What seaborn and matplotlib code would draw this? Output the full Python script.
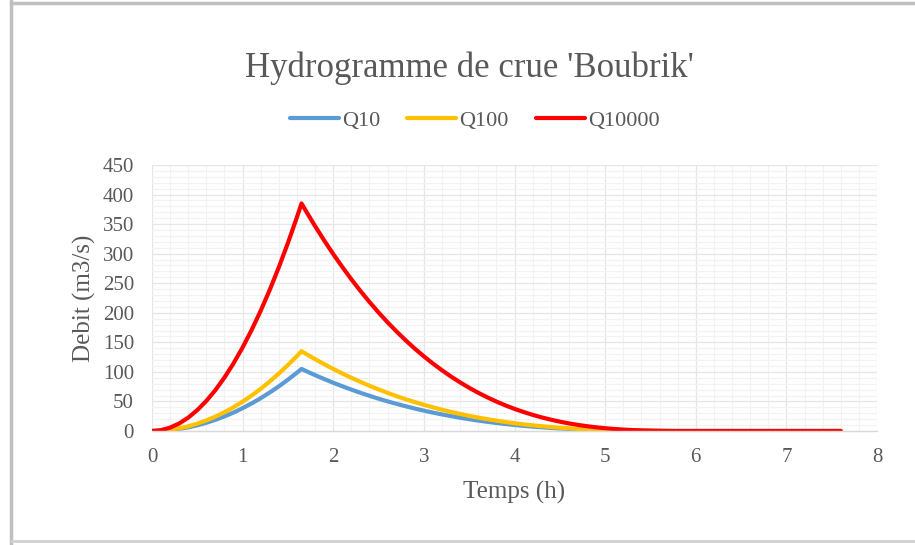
import numpy as np
import pandas as pd
import matplotlib
matplotlib.use("Agg")
import matplotlib.pyplot as plt
from matplotlib.ticker import MultipleLocator
from matplotlib.lines import Line2D
import seaborn as sns

# Time steps (h)
temps = [0.0, 0.1, 0.2, 0.3, 0.4, 0.5, 0.6, 0.7, 0.8, 0.9, 1.0, 1.1, 1.2, 1.3,
         1.4, 1.5, 1.6, 1.65,
         1.7, 1.8, 1.9, 2.0, 2.1, 2.2, 2.3, 2.4, 2.5, 2.6, 2.7, 2.8, 2.9, 3.0,
         3.1, 3.2, 3.3, 3.4, 3.5, 3.6, 3.7, 3.8, 3.9, 4.0, 4.1, 4.2, 4.3, 4.4,
         4.5, 4.6, 4.7, 4.8, 4.9, 5.0, 5.1, 5.2, 5.3, 5.4, 5.5, 5.6, 5.7, 5.8,
         5.9, 6.0, 7.6]

# Discharge (m3/s) for each return period
q10 = [0.0, 0.4, 1.5, 3.5, 6.2, 9.6, 13.9, 18.9, 24.7, 31.2, 38.6, 46.7, 55.5,
       65.2, 75.6, 86.8, 98.7, 105.0,
       101.4, 94.5, 87.9, 81.6, 75.7, 70.0, 64.6, 59.5, 54.7, 50.1, 45.8, 41.8,
       38.0, 34.4, 31.1, 28.0, 25.1, 22.4, 19.9, 17.6, 15.5, 13.6, 11.8, 10.2,
       8.7, 7.4, 6.3, 5.2, 4.3, 3.5, 2.8, 2.2, 1.7, 1.3, 0.9, 0.7, 0.4, 0.3,
       0.2, 0.1, 0.0, 0.0, 0.0, 0.0, 0.0]
q100 = [0.0, 0.5, 2.0, 4.5, 7.9, 12.4, 17.9, 24.3, 31.7, 40.2, 49.6, 60.0, 71.4,
        83.8, 97.2, 111.6, 126.9, 135.0,
        130.4, 121.5, 113.0, 105.0, 97.3, 90.0, 83.1, 76.5, 70.3, 64.5, 58.9,
        53.7, 48.9, 44.3, 40.0, 36.0, 32.3, 28.8, 25.6, 22.7, 20.0, 17.5, 15.2,
        13.1, 11.2, 9.6, 8.1, 6.7, 5.5, 4.5, 3.6, 2.8, 2.2, 1.6, 1.2, 0.8, 0.6,
        0.4, 0.2, 0.1, 0.0, 0.0, 0.0, 0.0, 0.0]
q10000 = [0.0, 1.4, 5.7, 12.7, 22.6, 35.4, 50.9, 69.3, 90.5, 114.5, 141.4,
          171.1, 203.6, 239.0, 277.2, 318.2, 362.0, 385.0,
          371.9, 346.5, 322.4, 299.3, 277.5, 256.6, 236.9, 218.2, 200.5, 183.8,
          168.1, 153.3, 139.3, 126.3, 114.1, 102.7, 92.1, 82.2, 73.1, 64.6,
          56.9, 49.8, 43.3, 37.4, 32.1, 27.3, 23.0, 19.2, 15.8, 12.8, 10.3,
          8.1, 6.2, 4.7, 3.4, 2.4, 1.6, 1.0, 0.6, 0.3, 0.1, 0.0, 0.0, 0.0, 0.0]

series_names = ["Q10", "Q100", "Q10000"]
series_colors = ["#5B9BD5", "#FFC000", "#FF0000"]

df = pd.concat([
    pd.DataFrame({"Temps": temps, "Debit": vals, "Serie": name})
    for name, vals in zip(series_names, [q10, q100, q10000])
], ignore_index=True)

sns.set_style("white")
plt.rcParams["font.family"] = ["Liberation Serif", "DejaVu Serif"]

TXT = "#595959"
fig = plt.figure(figsize=(9.15, 5.45), dpi=100)
ax = fig.add_axes([0.1661, 0.2092, 0.7924, 0.488])

sns.lineplot(data=df, x="Temps", y="Debit", hue="Serie",
             hue_order=series_names, palette=series_colors,
             linewidth=3.0, ax=ax, legend=False, sort=False)

ax.set_xlim(0, 8)
ax.set_ylim(0, 450)
ax.xaxis.set_major_locator(MultipleLocator(1))
ax.xaxis.set_minor_locator(MultipleLocator(0.2))
ax.yaxis.set_major_locator(MultipleLocator(50))
ax.yaxis.set_minor_locator(MultipleLocator(10))
ax.grid(which="major", color="#E6E6E6", linewidth=0.9)
ax.grid(which="minor", color="#F2F2F2", linewidth=0.8)
ax.set_axisbelow(True)

for side in ["top", "right", "left"]:
    ax.spines[side].set_visible(False)
ax.spines["bottom"].set_color("#D9D9D9")
ax.spines["bottom"].set_linewidth(1.0)
ax.tick_params(axis="x", which="major", direction="out", length=5,
               color="#D9D9D9", labelsize=15, labelcolor=TXT, pad=7)
ax.tick_params(axis="x", which="minor", length=0)
ax.tick_params(axis="y", which="both", length=0, labelsize=15,
               labelcolor=TXT, pad=13)

ax.set_xlabel("Temps (h)", fontsize=18, color=TXT, labelpad=10)
ax.set_ylabel("Debit (m3/s)", fontsize=18, color=TXT, labelpad=5)

fig.text(0.513, 0.875, "Hydrogramme de crue 'Boubrik'", ha="center",
         va="center", fontsize=25, color=TXT)

handles = [Line2D([0], [0], color=c, linewidth=3.0) for c in series_colors]
fig.legend(handles, series_names, loc="center", bbox_to_anchor=(0.519, 0.778),
           ncol=3, frameon=False, fontsize=16, handlelength=2.2,
           handletextpad=0.15, columnspacing=1.2, labelcolor=TXT)

# Outer frame of the chart area
fig.add_artist(Line2D([0.012, 0.012], [0.0, 1.0], transform=fig.transFigure,
                      color="#BFBFBF", linewidth=2.5))
fig.add_artist(Line2D([0.012, 1.0], [0.994, 0.994], transform=fig.transFigure,
                      color="#BFBFBF", linewidth=2.5))
fig.add_artist(Line2D([0.012, 1.0], [0.008, 0.008], transform=fig.transFigure,
                      color="#D0D0D0", linewidth=2.0))

fig.savefig("out.png", dpi=100)
